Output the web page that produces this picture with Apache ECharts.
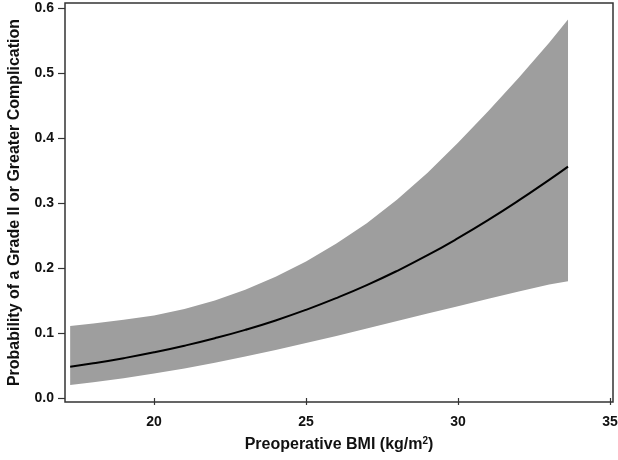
<!DOCTYPE html>
<html>
<head>
<meta charset="utf-8">
<script src="https://cdn.jsdelivr.net/npm/echarts@6/dist/echarts.min.js"></script>
<style>
html,body{margin:0;padding:0;background:#fff;}
#chart{width:618px;height:460px;}
</style>
</head>
<body>
<div id="chart"></div>
<script>
// BMI values (x)
var bmi = [17.24, 18, 19, 20, 21, 22, 23, 24, 25, 26, 27, 28, 29, 30, 31, 32, 33, 33.62];
// predicted probability (black line)
var prob = [0.0480, 0.0533, 0.0612, 0.0702, 0.0804, 0.0919, 0.1048, 0.1193, 0.1356, 0.1537, 0.1736, 0.1956, 0.2196, 0.2458, 0.2739, 0.3039, 0.3356, 0.3560];
// upper confidence bound
var upper = [0.1109, 0.1144, 0.1202, 0.1270, 0.1370, 0.1500, 0.1665, 0.1865, 0.2100, 0.2375, 0.2690, 0.3055, 0.3465, 0.3926, 0.4415, 0.4928, 0.5466, 0.5825];
// lower confidence bound
var lower = [0.0200, 0.0240, 0.0302, 0.0375, 0.0455, 0.0543, 0.0638, 0.0737, 0.0844, 0.0953, 0.1067, 0.1183, 0.1298, 0.1411, 0.1525, 0.1640, 0.1746, 0.1796];
// tick labels
var xTicks = [20, 25, 30, 35];
var yTicks = [0, 0.1, 0.2, 0.3, 0.4, 0.5, 0.6];

var bandData = bmi.map(function (x, i) { return [x, lower[i], upper[i]]; });
var lineData = bmi.map(function (x, i) { return [x, prob[i]]; });

var font = '"Liberation Sans", Arial, sans-serif';
var chart = echarts.init(document.getElementById('chart'), null, {renderer: 'canvas'});
chart.setOption({
  animation: false,
  backgroundColor: '#ffffff',
  grid: {left: 65, right: 5, top: 3, bottom: 58, outerBoundsMode: 'none', containLabel: false,
    show: true, borderColor: '#333333', borderWidth: 1.5, backgroundColor: 'transparent'},
  xAxis: {
    type: 'value', min: 17.07, max: 35.1,
    name: 'Preoperative BMI (kg/m{sup|2})',
    nameLocation: 'middle', nameGap: 34,
    nameTextStyle: {
      fontFamily: font, fontWeight: 'bold', fontSize: 16, color: '#111',
      rich: {sup: {fontFamily: font, fontWeight: 'bold', fontSize: 10, color: '#111', verticalAlign: 'top', padding: [0, 0, 8, 0]}}
    },
    axisLine: {show: false},
    splitLine: {show: false},
    axisTick: {show: true, length: 7, customValues: xTicks, lineStyle: {color: '#333', width: 1.2}},
    axisLabel: {customValues: xTicks, margin: 13, fontFamily: font, fontWeight: 'bold', fontSize: 14, color: '#111'}
  },
  yAxis: {
    type: 'value', min: -0.0062, max: 0.6077,
    name: 'Probability of a Grade II or Greater Complication',
    nameLocation: 'middle', nameGap: 42,
    nameTextStyle: {fontFamily: font, fontWeight: 'bold', fontSize: 16, color: '#111'},
    axisLine: {show: false},
    splitLine: {show: false},
    axisTick: {show: true, length: 7, customValues: yTicks, lineStyle: {color: '#333', width: 1.2}},
    axisLabel: {customValues: yTicks, margin: 11, fontFamily: font, fontWeight: 'bold', fontSize: 14, color: '#111',
      formatter: function (v) { return v.toFixed(1); }}
  },
  series: [
    {
      type: 'custom', data: bandData, silent: true, z: 1,
      renderItem: function (params, api) {
        if (params.dataIndex !== 0) return null;
        var pts = [];
        var i;
        for (i = 0; i < bandData.length; i++) pts.push(api.coord([bandData[i][0], bandData[i][2]]));
        for (i = bandData.length - 1; i >= 0; i--) pts.push(api.coord([bandData[i][0], bandData[i][1]]));
        return {type: 'polygon', shape: {points: pts, smooth: 0}, style: {fill: '#9e9e9e', stroke: null}};
      }
    },
    {type: 'line', data: lineData, symbol: 'none', smooth: true, lineStyle: {color: '#000', width: 2}, z: 5}
  ]
});
</script>
</body>
</html>
